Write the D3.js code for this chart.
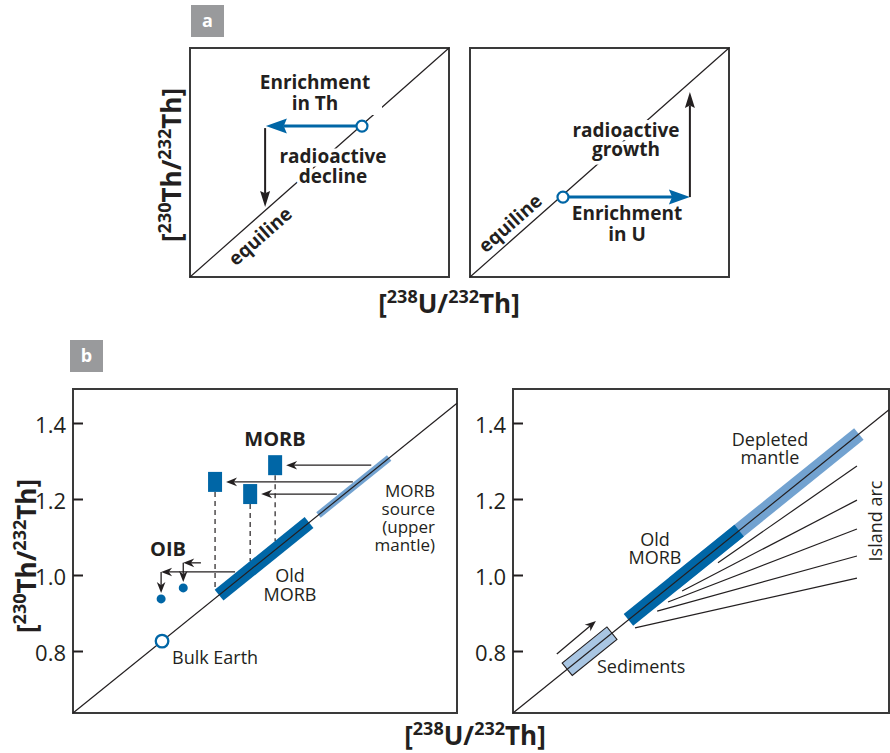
<!DOCTYPE html>
<html><head><meta charset="utf-8">
<script src="https://cdn.jsdelivr.net/npm/d3@7"></script>
<style>
body{margin:0;background:#fff;}
svg text{font-family:"Open Sans",sans-serif;fill:#231f20;}
</style></head><body>
<svg id="c" width="890" height="753"></svg>
<script>
// ---------------- data ----------------
// panel a (schematic, unit coordinates)
const equiline = [0, 1];
const thStart = [0.664, 0.659];
const thEnriched = [0.293, 0.659];
const thDeclined = [0.290, 0.306];
const uStart = [0.359, 0.349];
const uEnriched = [0.849, 0.349];
const uGrown = [0.849, 0.808];
// panel b, activity ratios [238U/232Th, 230Th/232Th]
const yTicks = [0.8, 1.0, 1.2, 1.4];
const bulkEarth = [0.826, 0.826];
const oldMorbLeft = [0.947, 1.138];
const morbSource = [1.158, 1.308];
const morbSamples = [[1.066, 1.289], [0.9385, 1.245], [1.013, 1.213]];
const morbArrowStart = [1.270, 1.231, 1.197];
const oibPoints = [[0.871, 0.966], [0.824, 0.937]];
const oibArrowY = [1.032, 1.008];
const oibArrowStart = [0.9085, 0.981];
const sediments = [0.752, 0.847];
const sedimentArrow = [[0.730, 0.792], [0.813, 0.879]];
const oldMorbRight = [0.882, 1.117];
const depletedMantle = [0.978, 1.371];
const islandArcStart = [[1.072, 1.032], [0.996, 0.958], [0.966, 0.929], [0.943, 0.905], [0.896, 0.861]];
const islandArcEnd = [[1.367, 1.287], [1.367, 1.197], [1.367, 1.121], [1.367, 1.050], [1.367, 0.992]];

// ---------------- setup ----------------
const svg = d3.select('#c');
const DARK = '#0066a6', LIGHT = '#72a2d0', SED = '#a9c6e3', INK = '#231f20', BOX = '#3a3a3a';

function arrow(g, x1, y1, x2, y2, o) {
  const dx = x2 - x1, dy = y2 - y1, len = Math.hypot(dx, dy);
  const ux = dx / len, uy = dy / len, px = -uy, py = ux;
  const bx = x2 - ux * o.L * o.n, by = y2 - uy * o.L * o.n;
  g.append('line').attr('x1', x1).attr('y1', y1).attr('x2', bx).attr('y2', by)
    .attr('stroke', o.c).attr('stroke-width', o.sw);
  g.append('path').attr('d', `M${x2},${y2}L${x2 - ux * o.L + px * o.W},${y2 - uy * o.L + py * o.W}L${bx},${by}L${x2 - ux * o.L - px * o.W},${y2 - uy * o.L - py * o.W}Z`)
    .attr('fill', o.c);
}
function lines(g, arr, x, y, fs, weight, anchor, lh) {
  arr.forEach((t, i) => g.append('text').attr('x', x).attr('y', y + i * lh)
    .attr('font-size', fs).attr('font-weight', weight).attr('text-anchor', anchor).text(t));
}
function ratioTitle(g, x, y, rot, a, b) {
  const t = g.append('text').attr('transform', `translate(${x},${y}) rotate(${rot})`)
    .attr('text-anchor', 'middle').attr('font-weight', 700).attr('font-size', 26);
  t.append('tspan').text('[');
  t.append('tspan').attr('font-size', 18).attr('dy', -10).text(a[0]);
  t.append('tspan').attr('dy', 10).text(a[1] + '/');
  t.append('tspan').attr('font-size', 18).attr('dy', -10).text(b[0]);
  t.append('tspan').attr('dy', 10).text(b[1] + ']');
}
function panelTag(x, y, s) {
  svg.append('rect').attr('x', x).attr('y', y).attr('width', 33).attr('height', 32).attr('fill', '#999a9c');
  svg.append('text').attr('x', x + 16.5).attr('y', y + 22).attr('text-anchor', 'middle')
    .attr('font-size', 18).attr('font-weight', 700).style('fill', '#fff').text(s);
}
function halo(sel) { sel.attr('stroke', '#fff').attr('stroke-width', 7).attr('stroke-linejoin', 'round').attr('paint-order', 'stroke'); }

// ---------------- panel a ----------------
const yA = d3.scaleLinear([0, 1], [277, 48]);
const xA1 = d3.scaleLinear([0, 1], [190, 449]);
const xA2 = d3.scaleLinear([0, 1], [470, 729]);
panelTag(191, 5, 'a');

[xA1, xA2].forEach(x => {
  svg.append('rect').attr('x', x(0)).attr('y', yA(1)).attr('width', x(1) - x(0)).attr('height', yA(0) - yA(1))
    .attr('fill', '#fff').attr('stroke', BOX).attr('stroke-width', 2);
  svg.append('line').attr('x1', x(equiline[0])).attr('y1', yA(equiline[0])).attr('x2', x(equiline[1])).attr('y2', yA(equiline[1]))
    .attr('stroke', INK).attr('stroke-width', 1.2);
});
const ang = -Math.atan((yA(0) - yA(1)) / (xA1(1) - xA1(0))) * 180 / Math.PI;

// left a
const ga1 = svg.append('g');
ga1.append('rect').attr('x', 254).attr('y', 70).attr('width', 128).attr('height', 45).attr('fill', '#fff');
lines(ga1, ['Enrichment', 'in Th'], 315, 89, 19, 700, 'middle', 21);
const rd = ga1.append('g');
lines(rd, ['radioactive', 'decline'], 333, 163, 19, 700, 'middle', 20);
halo(rd.selectAll('text'));
arrow(ga1, xA1(thStart[0]) - 6, yA(thStart[1]), xA1(thEnriched[0]), yA(thEnriched[1]), {c: DARK, sw: 3, L: 21, W: 7.5, n: 0.85});
arrow(ga1, xA1(thDeclined[0]), yA(thEnriched[1]) + 2, xA1(thDeclined[0]), yA(thDeclined[1]), {c: INK, sw: 2, L: 16, W: 5, n: 0.85});
ga1.append('circle').attr('cx', xA1(thStart[0])).attr('cy', yA(thStart[1])).attr('r', 5.5)
  .attr('fill', '#fff').attr('stroke', DARK).attr('stroke-width', 2.2);
ga1.append('text').attr('transform', `translate(260,236) rotate(${ang})`).attr('text-anchor', 'middle')
  .attr('dominant-baseline', 'central').attr('font-size', 19).attr('font-weight', 700).text('equiline');

// right a
const ga2 = svg.append('g');
const rg = ga2.append('g');
lines(rg, ['radioactive', 'growth'], 626, 137, 19, 700, 'middle', 19);
halo(rg.selectAll('text'));
const eu = ga2.append('g');
lines(eu, ['Enrichment', 'in U'], 627, 220, 19, 700, 'middle', 21);
arrow(ga2, xA2(uStart[0]) + 6, yA(uStart[1]), xA2(uEnriched[0]), yA(uEnriched[1]), {c: DARK, sw: 3, L: 21, W: 7.5, n: 0.85});
arrow(ga2, xA2(uGrown[0]), yA(uEnriched[1]), xA2(uGrown[0]), yA(uGrown[1]), {c: INK, sw: 2, L: 16, W: 5, n: 0.85});
ga2.append('circle').attr('cx', xA2(uStart[0])).attr('cy', yA(uStart[1])).attr('r', 5.5)
  .attr('fill', '#fff').attr('stroke', DARK).attr('stroke-width', 2.2);
ga2.append('text').attr('transform', `translate(510,223) rotate(${ang})`).attr('text-anchor', 'middle')
  .attr('dominant-baseline', 'central').attr('font-size', 19).attr('font-weight', 700).text('equiline');

ratioTitle(svg, 181, 165, -90, ['230', 'Th'], ['232', 'Th']);
ratioTitle(svg, 449, 313, 0, ['238', 'U'], ['232', 'Th']);

// ---------------- panel b ----------------
panelTag(70, 340, 'b');
const yB = d3.scaleLinear([0.8, 1.4], [651, 423]);
const xB1 = d3.scaleLinear([0.637, 1.452], [73, 457]);
const xB2 = d3.scaleLinear([0.637, 1.435], [513, 889]);
const yMin = yB.invert(713), yMax = yB.invert(389);

function frame(x) {
  const g = svg.append('g');
  g.append('rect').attr('x', x.range()[0]).attr('y', yB(yMax)).attr('width', x.range()[1] - x.range()[0])
    .attr('height', yB(yMin) - yB(yMax)).attr('fill', '#fff').attr('stroke', BOX).attr('stroke-width', 2);
  const ax = g.append('g').attr('transform', `translate(${x.range()[0]},0)`)
    .call(d3.axisLeft(yB).tickValues(yTicks).tickSize(-10).tickPadding(7).tickFormat(d3.format('.1f')));
  ax.select('.domain').remove();
  ax.selectAll('line').attr('stroke', INK).attr('stroke-width', 2);
  ax.selectAll('text').attr('font-size', 22).attr('font-family', '"Open Sans",sans-serif').attr('fill', INK).attr('dy', '0.42em');
  return g;
}
function band(g, x, r, w, col) {
  g.append('line').attr('x1', x(r[0])).attr('y1', yB(r[0])).attr('x2', x(r[1])).attr('y2', yB(r[1]))
    .attr('stroke', col).attr('stroke-width', w).attr('stroke-linecap', 'butt');
}
function eqLine(g, x) {
  const d = x.domain();
  g.append('line').attr('x1', x(d[0])).attr('y1', yB(d[0])).attr('x2', x(d[1])).attr('y2', yB(d[1]))
    .attr('stroke', INK).attr('stroke-width', 1.2);
}
const bArrow = {c: INK, sw: 1.3, L: 11, W: 4.3, n: 0.7};

// left b
const gb1 = frame(xB1);
band(gb1, xB1, morbSource, 7, LIGHT);
band(gb1, xB1, oldMorbLeft, 14, DARK);
eqLine(gb1, xB1);
morbSamples.forEach((s, i) => {
  const cx = xB1(s[0]), cy = yB(s[1]);
  const yEq = yB(s[0]) - 9;
  gb1.append('line').attr('x1', cx).attr('y1', cy + 10).attr('x2', cx).attr('y2', yEq)
    .attr('stroke', INK).attr('stroke-width', 1.2).attr('stroke-dasharray', '5,4');
  gb1.append('rect').attr('x', cx - 7).attr('y', cy - 10).attr('width', 14).attr('height', 20).attr('fill', DARK);
  arrow(gb1, xB1(morbArrowStart[i]), cy, cx + 11, cy, bArrow);
});
oibPoints.forEach((p, i) => {
  const cx = xB1(p[0]), cy = yB(p[1]), ay = yB(oibArrowY[i]);
  arrow(gb1, xB1(oibArrowStart[i]), ay, cx, ay, bArrow);
  arrow(gb1, cx, ay, cx, cy - 6, bArrow);
  gb1.append('circle').attr('cx', cx).attr('cy', cy).attr('r', 4.5).attr('fill', DARK);
});
gb1.append('circle').attr('cx', xB1(bulkEarth[0])).attr('cy', yB(bulkEarth[1])).attr('r', 6.3)
  .attr('fill', '#fff').attr('stroke', DARK).attr('stroke-width', 2.3);
lines(gb1, ['MORB'], 275, 446, 20, 700, 'middle', 0);
lines(gb1, ['OIB'], 168, 556, 20, 700, 'middle', 0);
lines(gb1, ['MORB', 'source', '(upper', 'mantle)'], 435, 497, 17, 400, 'end', 18);
lines(gb1, ['Old', 'MORB'], 290, 582, 18, 400, 'middle', 19);
lines(gb1, ['Bulk Earth'], 172, 664, 18, 400, 'start', 0);

// right b
const gb2 = frame(xB2);
band(gb2, xB2, depletedMantle, 15, LIGHT);
band(gb2, xB2, oldMorbRight, 15, DARK);
{
  const x0 = xB2(sediments[0]), y0 = yB(sediments[0]), x1 = xB2(sediments[1]), y1 = yB(sediments[1]);
  const len = Math.hypot(x1 - x0, y1 - y0), px = -(y1 - y0) / len * 8, py = (x1 - x0) / len * 8;
  gb2.append('path').attr('d', `M${x0 + px},${y0 + py}L${x1 + px},${y1 + py}L${x1 - px},${y1 - py}L${x0 - px},${y0 - py}Z`)
    .attr('fill', SED).attr('stroke', INK).attr('stroke-width', 1.1);
}
eqLine(gb2, xB2);
islandArcStart.forEach((s, i) => {
  const e = islandArcEnd[i];
  gb2.append('line').attr('x1', xB2(s[0])).attr('y1', yB(s[1])).attr('x2', xB2(e[0])).attr('y2', yB(e[1]))
    .attr('stroke', INK).attr('stroke-width', 1.2);
});
arrow(gb2, xB2(sedimentArrow[0][0]), yB(sedimentArrow[0][1]), xB2(sedimentArrow[1][0]), yB(sedimentArrow[1][1]), bArrow);
lines(gb2, ['Depleted', 'mantle'], 770, 446, 18, 400, 'middle', 18);
lines(gb2, ['Old', 'MORB'], 655, 546, 18, 400, 'middle', 18);
lines(gb2, ['Sediments'], 597, 673, 18, 400, 'start', 0);
gb2.append('text').attr('transform', 'translate(882,521) rotate(-90)').attr('text-anchor', 'middle')
  .attr('font-size', 18).text('Island arc');

ratioTitle(svg, 36, 556, -90, ['230', 'Th'], ['232', 'Th']);
ratioTitle(svg, 475, 745, 0, ['238', 'U'], ['232', 'Th']);
</script>
</body></html>
